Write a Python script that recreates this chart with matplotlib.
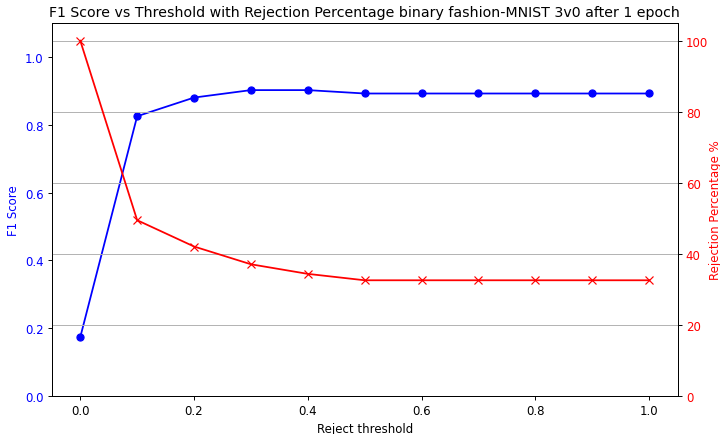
import numpy as np
import matplotlib
matplotlib.use('Agg')
import matplotlib.pyplot as plt

thresholds = [0.0, 0.1, 0.2, 0.3, 0.4, 0.5, 0.6, 0.7, 0.8, 0.9, 1.0]
f1_scores = [0.174, 0.825, 0.880, 0.902, 0.902, 0.892, 0.892, 0.892, 0.892, 0.892, 0.892]
reject_pct = [100.0, 49.5, 42.1, 37.1, 34.4, 32.6, 32.6, 32.6, 32.6, 32.6, 32.6]

# rendered at a lower dpi so text/lines scale like the reference
dpi = 85
fig, ax1 = plt.subplots(figsize=(720 / dpi, 435 / dpi), dpi=dpi)

ax1.plot(thresholds, f1_scores, color='blue', marker='o')
ax1.set_xlabel('Reject threshold')
ax1.set_ylabel('F1 Score', color='blue')
ax1.tick_params(axis='y', labelcolor='blue')
ax1.set_ylim(0, 1.1)

ax2 = ax1.twinx()
ax2.plot(thresholds, reject_pct, color='red', marker='x')
ax2.set_ylabel('Rejection Percentage %', color='red', labelpad=1)
ax2.tick_params(axis='y', labelcolor='red')
ax2.set_ylim(0, 105)
ax2.grid(True, axis='y', color='#b0b0b0')

plt.title('F1 Score vs Threshold with Rejection Percentage binary fashion-MNIST 3v0 after 1 epoch')
plt.subplots_adjust(left=0.072, right=0.941, top=0.945, bottom=0.087)

plt.savefig('out.png', dpi=dpi)
